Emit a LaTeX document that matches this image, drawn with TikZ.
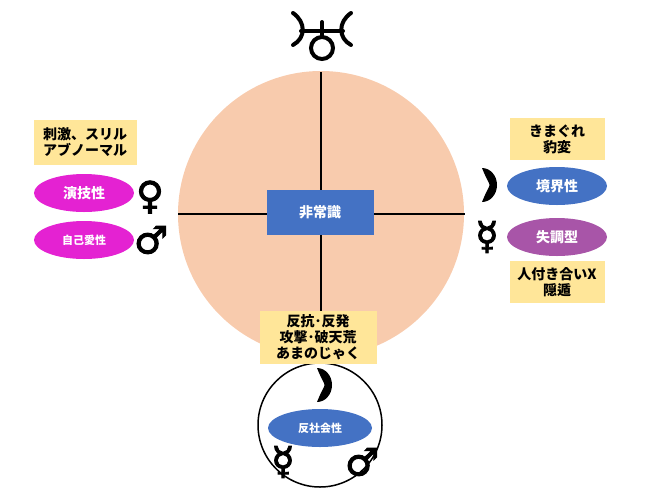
\documentclass[tikz,border=0pt]{standalone}
\usepackage{fontspec}
\setmainfont{Noto Sans CJK JP}
\newfontfamily\symfont{DejaVu Sans}[FakeBold=2.5]
\usetikzlibrary{positioning,shapes.geometric}
\definecolor{peach}{HTML}{F8CBAD}
\definecolor{cblue}{HTML}{4472C4}
\definecolor{cyel}{HTML}{FFE699}
\definecolor{cmag}{HTML}{E422D2}
\definecolor{cpur}{HTML}{A855A8}
\tikzset{
  note/.style={fill=cyel,font=\bfseries\fontsize{14}{16}\selectfont,align=center,inner sep=3pt},
  type/.style={ellipse,minimum width=100pt,minimum height=38pt,inner sep=0pt,text=white,font=\bfseries\fontsize{14}{16}\selectfont},
  sym/.style={font=\symfont\bfseries\fontsize{38}{38}\selectfont,inner sep=0pt},
  moon/.pic={\fill (0,-17) arc (-90:90:15 and 17) .. controls (10,-8) and (10,8) .. (0,-17) -- cycle;}
}
\begin{document}
\begin{tikzpicture}[x=1pt,y=-1pt]
		\useasboundingbox (0,0) rectangle (650,491);
		\fill[peach] (321,214) circle (143);
		\draw[line width=2pt] (178,214)--(465,214);
		\draw[line width=2pt] (321,72)--(321,320);
		\node[fill=cblue,text=white,minimum width=107pt,minimum height=45pt,font=\bfseries\fontsize{14}{16}\selectfont] (core) at (320,212) {非常識};
		% Uranus
		\draw[line width=4pt,line cap=round] (322,48) circle (11);
		\draw[line width=4pt,line cap=round] (322,37)--(322,22);
		\draw[line width=4pt,line cap=round] (301,31)--(343,31);
		\draw[line width=4pt,line cap=round] (293,13) .. controls (306,22) and (306,38) .. (293,45);
		\draw[line width=4pt,line cap=round] (351,13) .. controls (338,22) and (338,38) .. (351,45);
		% left
		\node[note,minimum width=103pt,minimum height=45pt] (thrill) at (85,142) {刺激、スリル\\アブノーマル};
		\node[type,fill=cmag] (hist) at (84,193) {演技性};
		\node[type,fill=cmag,font=\bfseries\fontsize{11}{13}\selectfont] (narc) at (84,240) {自己愛性};
		\node[sym] (venusL) at (150,197) {♀};
		\node[sym] (marsL) at (151,240) {♂};
		% right
		\node[note,minimum width=95pt,minimum height=42pt] (whim) at (557,139) {きまぐれ\\豹変};
		\pic at (482,185) {moon};
		\node[type,fill=cblue] (border) at (557,186) {境界性};
		\node[sym] (mercR) at (487,237) {☿};
		\node[type,fill=cpur] (schizo) at (557,237) {失調型};
		\node[note,minimum width=95pt,minimum height=42pt] (recl) at (557,282) {人付き合いX\\隠遁};
		% bottom
		\draw[line width=1.5pt] (320,425) circle (62);
		\node[note,minimum width=117pt,minimum height=53pt] (rebel) at (318,337) {反抗･反発\\攻撃･破天荒\\あまのじゃく};
		\pic at (317,385) {moon};
		\node[type,fill=cblue,minimum width=104pt,font=\bfseries\fontsize{11}{13}\selectfont] (anti) at (320,428) {反社会性};
		\node[sym] (mercB) at (283,462) {☿};
		\node[sym] (marsB) at (362,462) {♂};
	\end{tikzpicture}
\end{document}
